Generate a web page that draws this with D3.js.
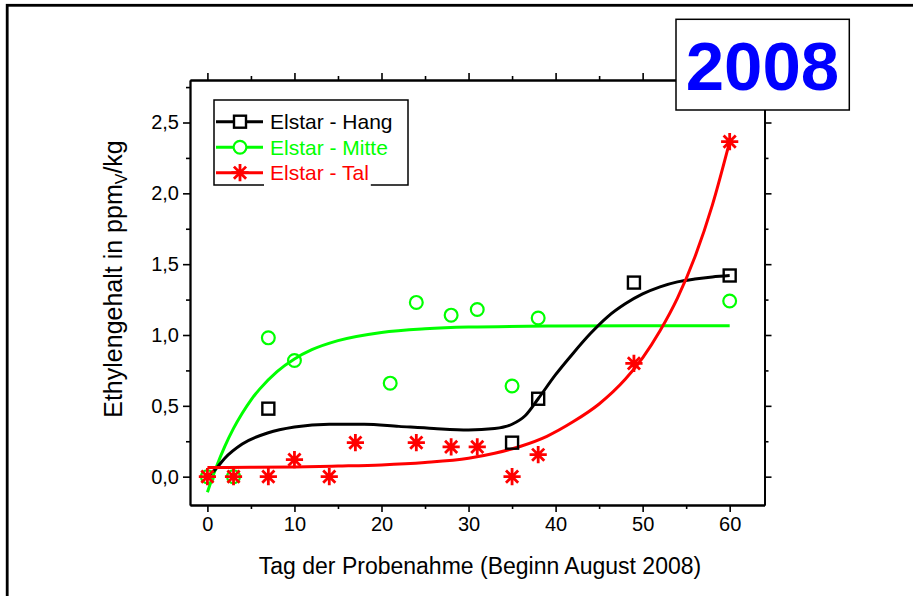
<!DOCTYPE html>
<html>
<head>
<meta charset="utf-8">
<script src="https://cdn.jsdelivr.net/npm/d3@7/dist/d3.min.js"></script>
<style>
  html, body { margin: 0; padding: 0; background: #fff; }
  svg { display: block; font-family: "Liberation Sans", Arial, sans-serif; }
</style>
</head>
<body>
<svg id="chart" width="913" height="596"></svg>
<script>
// Measured ethylene content, Elstar apples from three orchard positions
const hangDays   = [7, 35, 38, 49, 60];
const hangValues = [0.48, 0.24, 0.55, 1.37, 1.42];

const mitteDays   = [0, 3, 7, 10, 21, 24, 28, 31, 35, 38, 60];
const mitteValues = [0, 0, 0.98, 0.82, 0.66, 1.23, 1.14, 1.18, 0.64, 1.12, 1.24];

const talDays   = [0, 3, 7, 10, 14, 17, 24, 28, 31, 35, 38, 49, 60];
const talValues = [0, 0, 0, 0.12, 0, 0.24, 0.24, 0.21, 0.21, 0, 0.155, 0.80, 2.365];

// Fitted trend curves (sampled)
const hangFitDays   = [0, 0.9, 2, 4, 7, 10, 14, 18, 22, 26, 30, 33, 35, 36.5, 38, 40, 42, 44, 46, 48, 50, 52, 54, 56, 58, 60];
const hangFitValues = [0, 0.05, 0.13, 0.23, 0.31, 0.35, 0.37, 0.37, 0.355, 0.34, 0.33, 0.34, 0.37, 0.43, 0.55, 0.72, 0.87, 1.01, 1.13, 1.22, 1.29, 1.34, 1.375, 1.395, 1.41, 1.42];

const mitteFitDays   = [0, 1, 2, 3, 4, 5, 6, 8, 10, 12, 15, 20, 25, 30, 40, 50, 60];
const mitteFitValues = [-0.11, 0.065, 0.214, 0.341, 0.448, 0.541, 0.618, 0.742, 0.831, 0.896, 0.96, 1.018, 1.044, 1.056, 1.063, 1.065, 1.065];

const talFitDays   = [0, 5, 10, 15, 20, 25, 30, 33, 36, 39, 42, 45, 48, 50, 52, 54, 56, 58, 60];
const talFitValues = [0.064, 0.066, 0.069, 0.075, 0.083, 0.10, 0.13, 0.165, 0.215, 0.285, 0.387, 0.513, 0.687, 0.839, 1.03, 1.26, 1.55, 1.915, 2.365];

// Axis ticks
const xTicks = [0, 10, 20, 30, 40, 50, 60];
const xMinor = [5, 15, 25, 35, 45, 55];
const yTicks = [0, 0.5, 1.0, 1.5, 2.0, 2.5];
const yMinor = [0.25, 0.75, 1.25, 1.75, 2.25, 2.75];

const seriesNames = ["Elstar - Hang", "Elstar - Mitte", "Elstar - Tal"];
const yearLabel = "2008";

const svg = d3.select("#chart");

// outer frame
svg.append("rect")
  .attr("x", 7.2).attr("y", 5.3)
  .attr("width", 1000).attr("height", 700)
  .attr("fill", "none").attr("stroke", "#000").attr("stroke-width", 2.8);

const L = 190, R = 764.5, T = 80, B = 505;
const x = d3.scaleLinear().domain([-2, 64]).range([L, R]);
const y = d3.scaleLinear().domain([-0.2, 2.8]).range([B, T]);

const loc = d3.formatLocale({decimal: ",", thousands: ".", grouping: [3], currency: ["", ""]});
const fmtY = loc.format(".1f");

function styleAxis(g) {
  g.selectAll("path.domain").attr("stroke", "#000").attr("stroke-width", 1.8);
  g.selectAll(".tick line").attr("stroke", "#000").attr("stroke-width", 1.6);
  g.selectAll(".tick text").attr("fill", "#000").attr("font-size", 20)
    .attr("font-family", "'Liberation Sans', Arial, sans-serif");
}

// minor ticks first
svg.append("g").attr("transform", `translate(0,${B})`)
  .call(d3.axisBottom(x).tickValues(xMinor).tickFormat("").tickSize(4).tickSizeOuter(0)).call(styleAxis);
svg.append("g").attr("transform", `translate(0,${T})`)
  .call(d3.axisTop(x).tickValues(xMinor).tickFormat("").tickSize(4).tickSizeOuter(0)).call(styleAxis);
svg.append("g").attr("transform", `translate(${L},0)`)
  .call(d3.axisLeft(y).tickValues(yMinor).tickFormat("").tickSize(4).tickSizeOuter(0)).call(styleAxis);
svg.append("g").attr("transform", `translate(${R},0)`)
  .call(d3.axisRight(y).tickValues(yMinor).tickFormat("").tickSize(4).tickSizeOuter(0)).call(styleAxis);

// major ticks
svg.append("g").attr("transform", `translate(0,${B})`)
  .call(d3.axisBottom(x).tickValues(xTicks).tickFormat(d3.format("d")).tickSize(7).tickSizeOuter(0).tickPadding(5))
  .call(styleAxis);
svg.append("g").attr("transform", `translate(0,${T})`)
  .call(d3.axisTop(x).tickValues(xTicks).tickFormat("").tickSize(7).tickSizeOuter(0)).call(styleAxis);
svg.append("g").attr("transform", `translate(${L},0)`)
  .call(d3.axisLeft(y).tickValues(yTicks).tickFormat(fmtY).tickSize(7).tickSizeOuter(0).tickPadding(4))
  .call(styleAxis);
svg.append("g").attr("transform", `translate(${R},0)`)
  .call(d3.axisRight(y).tickValues(yTicks).tickFormat("").tickSize(7).tickSizeOuter(0)).call(styleAxis);

// axis titles
svg.append("text")
  .attr("x", 480).attr("y", 574)
  .attr("text-anchor", "middle").attr("font-size", 23).attr("fill", "#000")
  .text("Tag der Probenahme (Beginn August 2008)");

const yt = svg.append("text")
  .attr("transform", "translate(122,279) rotate(-90)")
  .attr("text-anchor", "middle").attr("font-size", 25).attr("fill", "#000");
yt.append("tspan").text("Ethylengehalt in ppm");
yt.append("tspan").attr("font-size", 16).attr("dy", 5).text("V");
yt.append("tspan").attr("dy", -5).text("/kg");

// fitted curves
const line = d3.line().x(d => x(d[0])).y(d => y(d[1])).curve(d3.curveMonotoneX);
const zip = (a, b) => a.map((v, i) => [v, b[i]]);

const colors = ["#000000", "#00ff00", "#ff0000"];

svg.append("path").datum(zip(mitteFitDays, mitteFitValues))
  .attr("d", line).attr("fill", "none").attr("stroke", colors[1]).attr("stroke-width", 3);
svg.append("path").datum(zip(hangFitDays, hangFitValues))
  .attr("d", line).attr("fill", "none").attr("stroke", colors[0]).attr("stroke-width", 3);
svg.append("path").datum(zip(talFitDays, talFitValues))
  .attr("d", line).attr("fill", "none").attr("stroke", colors[2]).attr("stroke-width", 3);

// marker drawing helpers
function square(g, cx, cy, color, fill) {
  g.append("rect").attr("x", cx - 6).attr("y", cy - 6).attr("width", 12).attr("height", 12)
    .attr("fill", fill || "none").attr("stroke", color).attr("stroke-width", 2.4);
}
function circle(g, cx, cy, color, fill) {
  g.append("circle").attr("cx", cx).attr("cy", cy).attr("r", 6.4)
    .attr("fill", fill || "none").attr("stroke", color).attr("stroke-width", 2.2);
}
function star(g, cx, cy, color) {
  const r = 8.6;
  const d = [0, 45, 90, 135].map(a => {
    const t = a * Math.PI / 180;
    return `M${cx - r * Math.cos(t)},${cy - r * Math.sin(t)}L${cx + r * Math.cos(t)},${cy + r * Math.sin(t)}`;
  }).join("");
  g.append("path").attr("d", d).attr("stroke", color).attr("stroke-width", 2.8).attr("fill", "none");
}

const gm = svg.append("g");
zip(mitteDays, mitteValues).forEach(d => circle(gm, x(d[0]), y(d[1]), colors[1]));
zip(hangDays, hangValues).forEach(d => square(gm, x(d[0]), y(d[1]), colors[0]));
zip(talDays, talValues).forEach(d => star(gm, x(d[0]), y(d[1]), colors[2]));

// legend
const lg = svg.append("g");
lg.append("rect").attr("x", 214).attr("y", 100).attr("width", 194).attr("height", 85)
  .attr("fill", "#fff").attr("stroke", "#000").attr("stroke-width", 1.5);
const rowsY = [121.7, 147.3, 172.7];
const markers = [square, circle, star];
seriesNames.forEach((name, i) => {
  const cy = rowsY[i];
  lg.append("line").attr("x1", 216).attr("x2", 263).attr("y1", cy).attr("y2", cy)
    .attr("stroke", colors[i]).attr("stroke-width", 3);
  markers[i](lg, 240, cy, colors[i], "#fff");
  const t = lg.append("text").attr("x", 270).attr("y", cy + 7.5)
    .attr("font-size", 21).attr("fill", colors[i]).text(name);
  if (i === 2) {
    const bb = t.node().getBBox();
    lg.insert("rect", () => t.node())
      .attr("x", bb.x - 6).attr("y", bb.y).attr("width", bb.width + 8).attr("height", bb.height + 2)
      .attr("fill", "#fff");
  }
});

// year box
svg.append("rect").attr("x", 676).attr("y", 19.3).attr("width", 173.3).attr("height", 90.7)
  .attr("fill", "#fff").attr("stroke", "#000").attr("stroke-width", 1.5);
svg.append("text").attr("x", 762.5).attr("y", 90)
  .attr("text-anchor", "middle").attr("font-size", 69).attr("font-weight", "bold")
  .attr("fill", "#0000ff").text(yearLabel);
</script>
</body>
</html>
